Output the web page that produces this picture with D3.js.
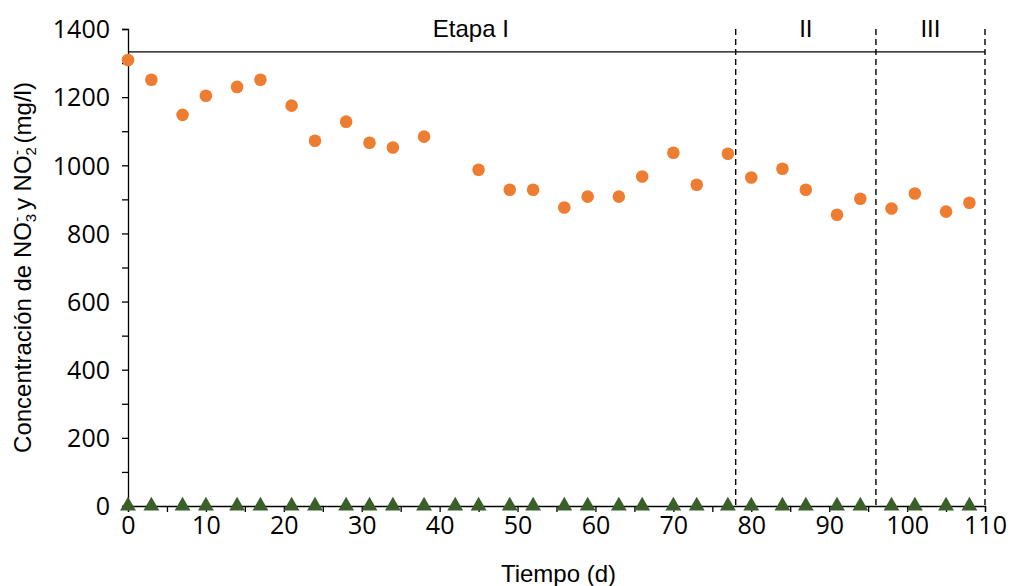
<!DOCTYPE html>
<html lang="es">
<head>
<meta charset="utf-8">
<script src="https://d3js.org/d3.v7.min.js"></script>
<style>
  *{margin:0;padding:0}
  body{background:#fff}
  .tick text{font-family:"Open Sans",sans-serif;font-size:25px;fill:#000}
  .title{font-family:"Liberation Sans",Arial,sans-serif;fill:#000}
</style>
</head>
<body>
<script>
// dias de muestreo y concentraciones (mg/l)
const daysNO3 = [0,3,7,10,14,17,21,24,28,31,34,38,45,49,52,56,59,63,66,70,73,77,80,84,87,91,94,98,101,105,108];
const no3 = [1309,1251,1148,1204,1230,1251,1175,1072,1128,1066,1052,1084,987,928,928,876,908,908,967,1037,943,1034,964,990,928,855,902,873,917,864,890];
const daysNO2 = [0,3,7,10,14,17,21,24,28,31,34,38,42,45,49,52,56,59,63,66,70,73,77,80,84,87,91,94,98,101,105,108];
const no2 = [0,0,0,0,0,0,0,0,0,0,0,0,0,0,0,0,0,0,0,0,0,0,0,0,0,0,0,0,0,0,0,0];
// etapas
const stageBounds = [78,96,110];
const stageLabels = ['Etapa I','II','III'];
const stageLabelPos = [44,87,103];
const stageLineY = 1333;

const width=1013, height=586;
const margin={top:29,right:28,bottom:80,left:128};

const svg=d3.select('body').append('svg')
  .attr('width',width).attr('height',height);

const x=d3.scaleLinear().domain([0,110]).range([margin.left,width-margin.right]);
const y=d3.scaleLinear().domain([0,1400]).range([height-margin.bottom,margin.top]);

// eje y: marcas cada 100, etiquetas cada 200
const yAxis=svg.append('g')
  .attr('transform',`translate(${margin.left},0)`)
  .call(d3.axisLeft(y).tickValues(d3.range(0,1401,100)).tickSize(6).tickPadding(12)
    .tickFormat(d=>d%200===0?d:''));
yAxis.select('.domain').attr('stroke','#000').attr('stroke-width',1.3);
yAxis.selectAll('.tick line').attr('stroke','#000').attr('stroke-width',1.3);
yAxis.selectAll('.tick text').attr('dy','0.35em');

// eje x: marcas cada 5
const xAxis=svg.append('g')
  .attr('transform',`translate(0,${y(0)})`)
  .call(d3.axisBottom(x).tickValues(d3.range(0,111,5)).tickSize(6).tickPadding(4)
    .tickFormat(d=>d%10===0?d:''));
xAxis.select('.domain').attr('stroke','#000').attr('stroke-width',1.3);
xAxis.selectAll('.tick line').attr('stroke','#000').attr('stroke-width',1.3);

// linea de etapas
svg.append('line')
  .attr('x1',x(0)).attr('x2',x(110))
  .attr('y1',y(stageLineY)).attr('y2',y(stageLineY))
  .attr('stroke','#000').attr('stroke-width',1.3);

svg.selectAll('.bound').data(stageBounds).enter().append('line')
  .attr('class','bound')
  .attr('x1',d=>x(d)).attr('x2',d=>x(d))
  .attr('y1',y(1400)).attr('y2',y(0))
  .attr('stroke','#000').attr('stroke-width',1.4)
  .attr('stroke-dasharray','6,4');

svg.selectAll('.stage').data(stageLabels).enter().append('text')
  .attr('class','title')
  .attr('x',(d,i)=>x(stageLabelPos[i]))
  .attr('y',y(1400)+8)
  .attr('text-anchor','middle')
  .attr('font-size',24)
  .text(d=>d);

// NO2- (triangulos)
svg.selectAll('.no2').data(daysNO2).enter().append('path')
  .attr('class','no2')
  .attr('d',d3.symbol(d3.symbolTriangle,110))
  .attr('transform',(d,i)=>`translate(${x(d)},${y(no2[i])})`)
  .attr('fill','#3a5f28');

// NO3- (circulos)
svg.selectAll('.no3').data(daysNO3).enter().append('circle')
  .attr('class','no3')
  .attr('cx',d=>x(d))
  .attr('cy',(d,i)=>y(no3[i]))
  .attr('r',6.3)
  .attr('fill','#ed7d31');

// titulos de ejes
svg.append('text')
  .attr('class','title')
  .attr('x',(margin.left+width-margin.right)/2+2)
  .attr('y',height-4)
  .attr('text-anchor','middle')
  .attr('font-size',24)
  .text('Tiempo (d)');

const yl=svg.append('text')
  .attr('class','title')
  .attr('transform',`translate(31,${(y(0)+y(1400))/2}) rotate(-90)`)
  .attr('text-anchor','middle')
  .attr('font-size',24);
yl.append('tspan').text('Concentración de NO');
yl.append('tspan').attr('font-size',15).attr('dy',5).text('3');
yl.append('tspan').attr('font-size',15).attr('dx',-8).attr('dy',-14).text('-');
yl.append('tspan').attr('dy',9).text(' y NO');
yl.append('tspan').attr('font-size',15).attr('dy',5).text('2');
yl.append('tspan').attr('font-size',15).attr('dx',-8).attr('dy',-14).text('-');
yl.append('tspan').attr('dy',9).text(' (mg/l)');
</script>
</body>
</html>
